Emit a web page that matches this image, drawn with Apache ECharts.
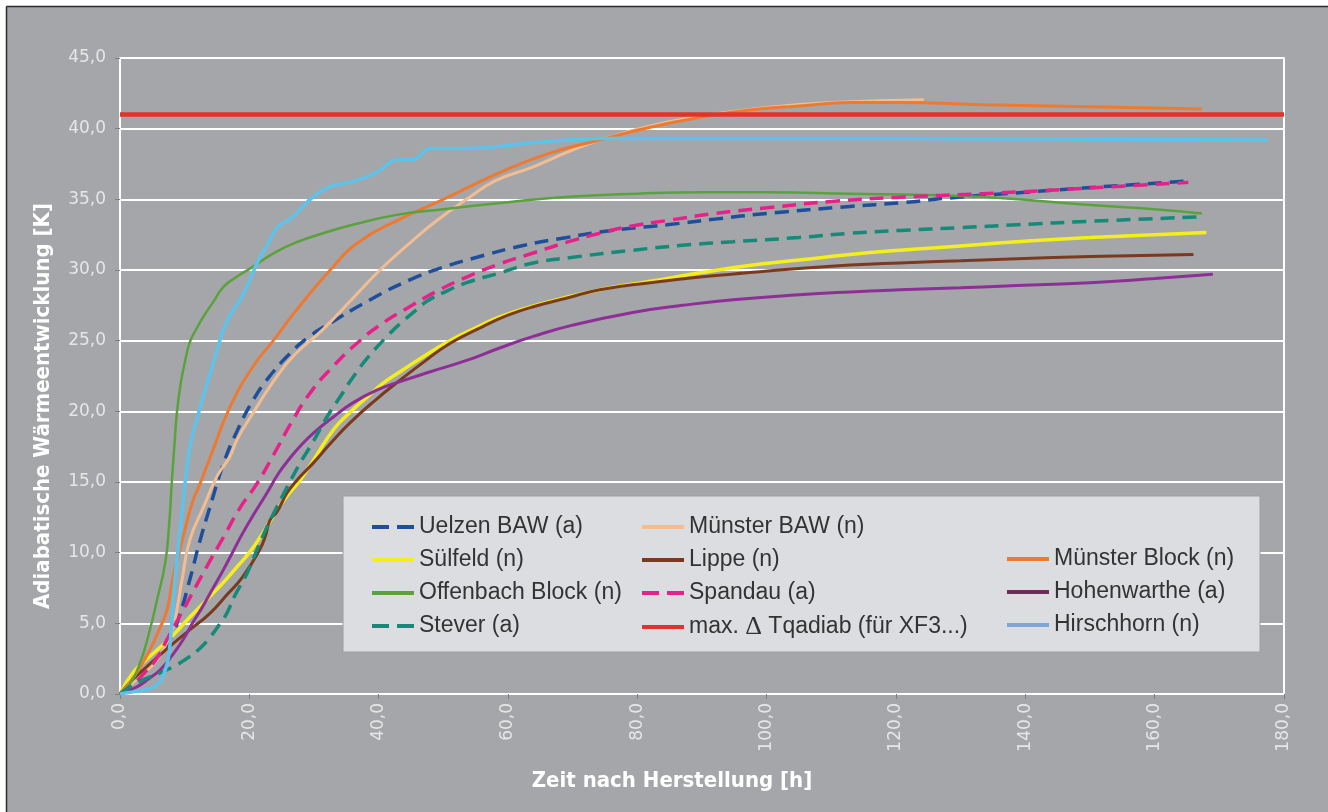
<!DOCTYPE html>
<html>
<head>
<meta charset="utf-8">
<script src="https://cdn.jsdelivr.net/npm/echarts@6/dist/echarts.min.js"></script>
<style>
html,body{margin:0;padding:0;background:#ffffff;}
#chart{width:1328px;height:812px;}
</style>
</head>
<body>
<div id="chart"></div>
<script>
// ---- data (x = hours, y = Kelvin) ----
const uelzen = [[0,0],[2,0.8],[4,1.7],[6,2.7],[7.7,3.8],[9.3,5.7],[10.8,8.1],[12.4,10.9],[13.9,13.2],[16,16.3],[18.1,18.6],[20.6,20.8],[23,22.4],[26.3,24.1],[29,25.2],[32,26.1],[38.7,27.9],[44.8,29.3],[50,30.2],[55.2,30.9],[62,31.7],[69.1,32.3],[76,32.8],[84.6,33.2],[92,33.6],[100,34.0],[112.9,34.5],[120.6,34.75],[128.3,35.1],[140,35.5],[149,35.8],[157,36.05],[165.2,36.3]];
const muensterBaw = [[0,0],[2,0.8],[4,1.6],[5.7,2.4],[7,3.4],[8.2,4.7],[9.0,6.5],[9.6,8.1],[10.8,10.9],[12.9,13.2],[15,15.4],[17,16.8],[18.1,18],[20.6,19.9],[24,22.3],[27,24],[31.4,25.8],[36,28],[40.2,30],[44.8,31.9],[49,33.5],[53.6,35],[58,36.3],[63.9,37.3],[69,38.3],[74.2,39.2],[82,40.2],[90,40.9],[100,41.5],[110,41.85],[124.3,42.05]];
const suelfeld = [[0,0],[2,1.5],[4,2.4],[6.2,3.3],[8.3,4.2],[10.3,5.2],[12,6.0],[13.9,6.9],[16,7.9],[18.1,9.0],[20,10],[22.1,11.4],[24,12.8],[25.8,14],[27.8,15.1],[30,16.6],[33,18.7],[35.5,19.9],[38.2,21],[40.7,22],[43.3,22.8],[47,23.9],[51,25],[55,25.9],[58.8,26.7],[65,27.6],[74.2,28.6],[82,29.2],[89.7,29.8],[97,30.3],[105,30.7],[112.9,31.1],[120.6,31.4],[130,31.7],[138.7,32.0],[150,32.3],[168,32.65]];
const lippe = [[0,0],[1.5,0.8],[3.6,1.7],[6,2.7],[8.8,3.8],[11.5,4.8],[13.9,5.7],[16.5,7.0],[19,8.3],[21.6,10.2],[22.5,11.2],[23.2,12.3],[24.3,12.9],[25.8,14.2],[27.5,15.2],[29.8,16.3],[32.5,17.7],[35.6,19.2],[39.5,20.8],[43.3,22.2],[47,23.5],[51,24.8],[56.1,26],[60,26.8],[63.9,27.4],[69,28.0],[74.2,28.6],[82,29.1],[89.7,29.5],[97,29.8],[105,30.1],[112.9,30.35],[120.6,30.5],[130,30.65],[138.7,30.8],[150,30.95],[166,31.1]];
const muensterBlock = [[0,0],[1.5,0.8],[3,1.8],[4.6,3.1],[6,4.5],[7.3,6.0],[8.2,8.3],[9,9.7],[10.3,12.1],[11.3,13.7],[12.4,14.9],[14.4,17.3],[17,20.3],[20.6,23.2],[23.7,25.0],[27,27],[32.5,30],[37,32],[43.3,33.6],[50,35],[58.8,36.9],[66,38.2],[74.2,39.2],[82,40.1],[89.7,40.8],[97,41.3],[105,41.6],[112.9,41.85],[120.6,41.85],[133.5,41.7],[150,41.55],[167.3,41.4]];
const offenbach = [[0,0],[1.5,0.7],[3.1,2.2],[4.6,4.5],[5.8,6.8],[7.0,9.3],[7.6,12],[8.0,14.9],[8.4,17.5],[8.8,19.9],[9.4,22],[10,23.4],[10.8,24.9],[11.9,25.9],[12.9,26.7],[14.5,27.8],[16,28.8],[18,29.5],[20.1,30.1],[24.2,31.3],[27.5,32],[31.4,32.6],[36,33.2],[42.8,33.9],[50,34.3],[60,34.8],[70,35.2],[80,35.4],[90,35.5],[100,35.5],[112.9,35.4],[125,35.3],[136,35.1],[150,34.6],[160,34.3],[167.3,34.0]];
const spandau = [[0,0],[2,0.7],[4,1.6],[5.8,2.6],[7.2,3.8],[10.3,6.4],[13.4,9],[16,11.1],[18.6,13.2],[21.2,14.9],[24.2,17.3],[26.5,19.2],[29.4,21.3],[33,23.2],[36.6,24.8],[40.5,26.2],[44.6,27.35],[49,28.5],[53.6,29.5],[58.5,30.4],[63.9,31.2],[69,31.95],[74.2,32.6],[79,33.1],[84.6,33.5],[92,34.0],[100,34.4],[110,34.85],[120.6,35.15],[133.5,35.4],[150,35.8],[165.2,36.2]];
const hohenwarthe = [[0,0],[2.6,0.5],[4.5,1.1],[6.2,1.7],[8,2.7],[9.7,3.8],[11.2,5.0],[12.8,6.2],[14.4,7.5],[16,8.8],[17.5,10.1],[19,11.4],[20.8,12.8],[22.7,14.2],[24.5,15.6],[26.3,16.7],[28,17.6],[30,18.5],[33,19.6],[36,20.6],[39.7,21.5],[43.3,22.1],[48,22.8],[53.6,23.6],[58.8,24.5],[63.9,25.3],[70,26.1],[79.3,27.0],[87,27.5],[94.8,27.9],[105,28.25],[112.9,28.45],[120.6,28.6],[130,28.75],[138.7,28.9],[150,29.1],[160,29.4],[169,29.7]];
const stever = [[0,0],[1.5,0.5],[3.5,1.0],[6.2,1.5],[8.5,2.0],[10.3,2.5],[12.3,3.2],[13.9,4.0],[15.5,5.0],[16.5,5.7],[17.8,7.0],[19.6,8.5],[21,10],[22.4,11.5],[24,13],[25.8,14.6],[27.8,16.3],[29.8,17.8],[32,19.6],[34,21],[36,22.4],[38.5,23.9],[41.5,25.4],[43.3,26.2],[45.9,27.2],[47.5,27.8],[50,28.4],[53.6,29.1],[58.8,29.8],[63.9,30.5],[70,30.9],[79.3,31.4],[87,31.75],[94.8,32.0],[105,32.3],[112.9,32.6],[120.6,32.8],[130,33.0],[138.7,33.2],[150,33.45],[166.7,33.75]];
const maxLimit = [[0,41],[180,41]];
const hirschhorn = [[0,0],[2,0.15],[4,0.3],[5.2,0.5],[6.2,0.9],[6.7,1.3],[7.5,2.6],[8.0,5.0],[8.5,8.1],[9.3,11.6],[10.05,14.9],[10.8,17.5],[12.4,20.3],[14.4,23.4],[16,25.8],[17.3,27.0],[18.6,27.9],[20,29.2],[21.2,30.5],[22.8,31.8],[24.3,33],[26.6,33.7],[29.4,35],[32.5,35.9],[35.6,36.2],[39.7,36.9],[42.8,37.8],[45.3,37.8],[47.9,38.6],[53.6,38.6],[63.9,39.0],[74.2,39.3],[120,39.3],[177.5,39.2]];

const names = ['Uelzen BAW (a)','Münster BAW (n)','Sülfeld (n)','Lippe (n)','Münster Block (n)','Offenbach Block (n)','Spandau (a)','Hohenwarthe (a)','Stever (a)','max. Δ Tqadiab (für XF3...)','Hirschhorn (n)'];
const xTicks = {min:0, max:180, step:20};
const yTicks = {min:0, max:45, step:5};

const BG = '#a4a6a9';
const labelFont = "'DejaVu Sans', sans-serif";
const titleFont = "'Liberation Sans Narrow','DejaVu Sans Condensed','Liberation Sans',sans-serif";
const fmt = v => v.toFixed(1).replace('.', ',');

const colors = ['#1f4f9a','#f2bd92','#f4ee1e','#7b3a1e','#ee7a32','#5aa23c','#e6218a','#8d2f96','#158a78','#e2332a','#5ec3ea'];
const legendColors = {7:'#6e2a58', 10:'#7da7db'};
const dashed = {0:true, 6:true, 8:true};

function line(i, data, width, smooth) {
  const color = colors[i];
  return {
    name:names[i], type:'line', data, showSymbol:false, symbol:'none',
    smooth: smooth === undefined ? 0.5 : smooth,
    lineStyle:{color, width, type: dashed[i] ? [14,8] : 'solid', cap:'butt'},
    itemStyle:{color}, emphasis:{disabled:true}, z:3, silent:true
  };
}

const series = [
  line(0, uelzen, 3.5),
  line(1, muensterBaw, 3),
  line(2, suelfeld, 3.5),
  line(3, lippe, 3),
  line(4, muensterBlock, 3),
  line(5, offenbach, 2.5),
  line(6, spandau, 3.5),
  line(7, hohenwarthe, 3),
  line(8, stever, 3.5),
  line(9, maxLimit, 4.5, false),
  line(10, hirschhorn, 3.5, 0.3)
];

const ICON_SOLID = 'path://M0,0H42V4H0Z';
const ICON_DASH = 'path://M0,0H17V4H0Z M25,0H42V4H25Z';
const legendText = {color:'#333333', fontSize:23, fontFamily:"'Liberation Sans', Arial, sans-serif", lineHeight:24,
  rich:{d:{fontFamily:"'Liberation Serif','DejaVu Serif',serif", fontSize:26, color:'#333333', lineHeight:24}}};
const legendFmt = n => n.indexOf('Δ') >= 0 ? 'max. {d|Δ} Tqadiab (für XF3...)' : n;
function legend(left, top, idx) {
  return {
    orient:'vertical', left, top, itemWidth:42, itemHeight:4, itemGap:9, padding:0,
    selectedMode:false, z:20, textStyle:legendText, formatter:legendFmt,
    itemStyle:{borderWidth:0},
    data: idx.map(i => ({name: names[i], icon: dashed[i] ? ICON_DASH : ICON_SOLID,
      itemStyle:{color: legendColors[i] || colors[i], borderWidth:0}}))
  };
}

const option = {
  backgroundColor: BG,
  animation:false,
  grid:{left:120, right:44, top:58, bottom:118, containLabel:false},
  xAxis:{
    type:'value', min:xTicks.min, max:xTicks.max, interval:xTicks.step,
    axisLine:{show:true, lineStyle:{color:'#ffffff', width:2}},
    axisTick:{show:true, length:5, lineStyle:{color:'#7d7f82', width:1}},
    axisLabel:{rotate:90, margin:9, color:'#e6e6e6', fontSize:17, fontFamily:labelFont, formatter:fmt},
    splitLine:{show:false},
    name:'Zeit nach Herstellung [h]', nameLocation:'middle', nameGap:76,
    nameTextStyle:{color:'#ffffff', fontSize:22, fontWeight:'bold', fontFamily:titleFont, padding:[0,60,0,0]}
  },
  yAxis:[{
    type:'value', min:yTicks.min, max:yTicks.max, interval:yTicks.step,
    axisLine:{show:true, lineStyle:{color:'#ffffff', width:2}},
    axisTick:{show:true, length:5, lineStyle:{color:'#7d7f82', width:1}},
    axisLabel:{margin:14, color:'#e6e6e6', fontSize:17, fontFamily:labelFont, formatter:fmt},
    splitLine:{show:true, lineStyle:{color:'#ffffff', width:2}},
    name:'Adiabatische Wärmeentwicklung [K]', nameLocation:'middle', nameGap:66,
    nameTextStyle:{color:'#ffffff', fontSize:22, fontWeight:'bold', fontFamily:titleFont, padding:[0,60,0,0]}
  },{
    type:'value', position:'right', min:yTicks.min, max:yTicks.max, interval:yTicks.step,
    axisLine:{show:true, lineStyle:{color:'#ffffff', width:2}},
    axisTick:{show:false}, axisLabel:{show:false}, splitLine:{show:false}
  }],
  legend:[
    legend(372, 515, [0,2,5,8]),
    legend(642, 515, [1,3,6,9]),
    legend(1007, 547, [4,7,10])
  ],
  graphic:[
    {type:'rect', z:10, silent:true, shape:{x:343, y:496, width:917, height:156}, style:{fill:'#dcdde0', stroke:'#9c9ea1', lineWidth:1}},
    {type:'rect', z:100, silent:true, shape:{x:0, y:0, width:1328, height:6}, style:{fill:'#ffffff'}},
    {type:'rect', z:100, silent:true, shape:{x:0, y:0, width:6, height:812}, style:{fill:'#ffffff'}},
    {type:'line', z:100, silent:true, shape:{x1:6.5, y1:6.5, x2:1328, y2:6.5}, style:{stroke:'#2b2b2b', lineWidth:1.5}},
    {type:'line', z:100, silent:true, shape:{x1:6.5, y1:6.5, x2:6.5, y2:812}, style:{stroke:'#2b2b2b', lineWidth:1.5}}
  ],
  series
};

const chart = echarts.init(document.getElementById('chart'), null, {renderer:'canvas'});
chart.setOption(option);
</script>
</body>
</html>
